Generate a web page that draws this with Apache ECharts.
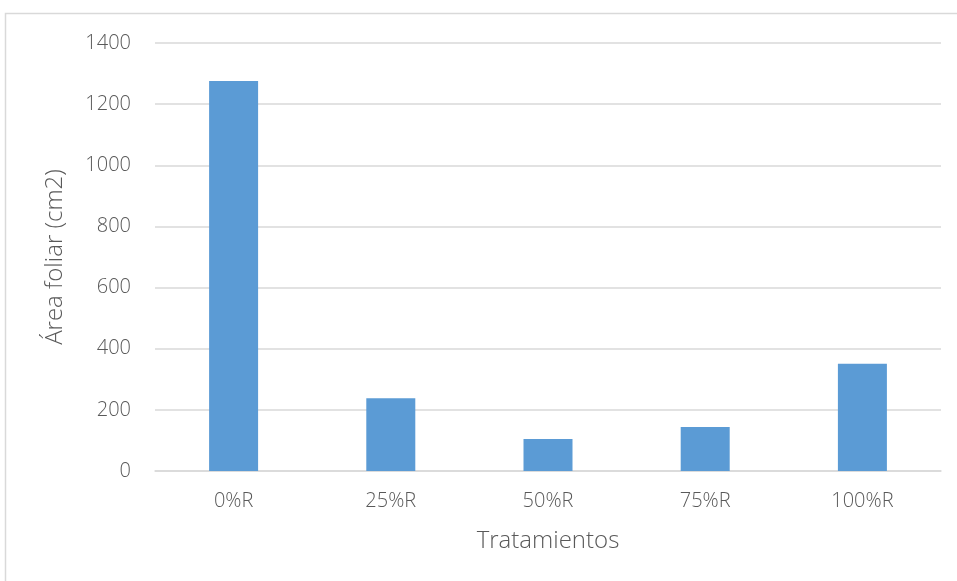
<!DOCTYPE html>
<html>
<head>
<meta charset="utf-8">
<script src="https://cdn.jsdelivr.net/npm/echarts@6/dist/echarts.min.js"></script>
<style>
  html, body { margin: 0; padding: 0; background: #fff; }
  #chart { width: 957px; height: 581px; }
</style>
</head>
<body>
<div id="chart"></div>
<script>
// Treatments and leaf area values
const categories = ['0%R', '25%R', '50%R', '75%R', '100%R'];
const leafArea = [1276, 238, 105, 144, 351];
const yTicks = { min: 0, max: 1400, interval: 200 };

const textColor = '#595959';
const lineColor = '#d9d9d9';
const font = '"Open Sans", Lato, sans-serif';

const chart = echarts.init(document.getElementById('chart'), null, { renderer: 'canvas' });
chart.setOption({
  animation: false,
  backgroundColor: '#fff',
  graphic: [{
    type: 'rect',
    silent: true,
    shape: { x: 5.5, y: 13.5, width: 1200, height: 1200 },
    style: { fill: 'none', stroke: lineColor, lineWidth: 1.5 }
  }],
  grid: { left: 155, right: 16, top: 43, bottom: 110 },
  xAxis: {
    type: 'category',
    data: categories,
    name: 'Tratamientos',
    nameLocation: 'middle',
    nameGap: 58,
    nameTextStyle: { color: textColor, fontSize: 24, fontFamily: font, fontWeight: 300 },
    axisLine: { lineStyle: { color: lineColor, width: 1.5 } },
    axisTick: { show: false },
    axisLabel: { color: textColor, fontSize: 20, fontFamily: font, fontWeight: 300, margin: 20 }
  },
  yAxis: {
    type: 'value',
    min: yTicks.min,
    max: yTicks.max,
    interval: yTicks.interval,
    name: 'Área foliar (cm2)',
    nameLocation: 'middle',
    nameGap: 88,
    nameTextStyle: { color: textColor, fontSize: 24, fontFamily: font, fontWeight: 300 },
    axisLine: { show: false },
    axisTick: { show: false },
    splitLine: { lineStyle: { color: lineColor, width: 1.5 } },
    axisLabel: {
      color: textColor, fontSize: 20, fontFamily: font, fontWeight: 300, margin: 24,
      formatter: v => String(v)
    }
  },
  series: [{
    type: 'bar',
    data: leafArea,
    barWidth: 49,
    itemStyle: { color: '#5b9bd5' }
  }]
});
</script>
</body>
</html>
